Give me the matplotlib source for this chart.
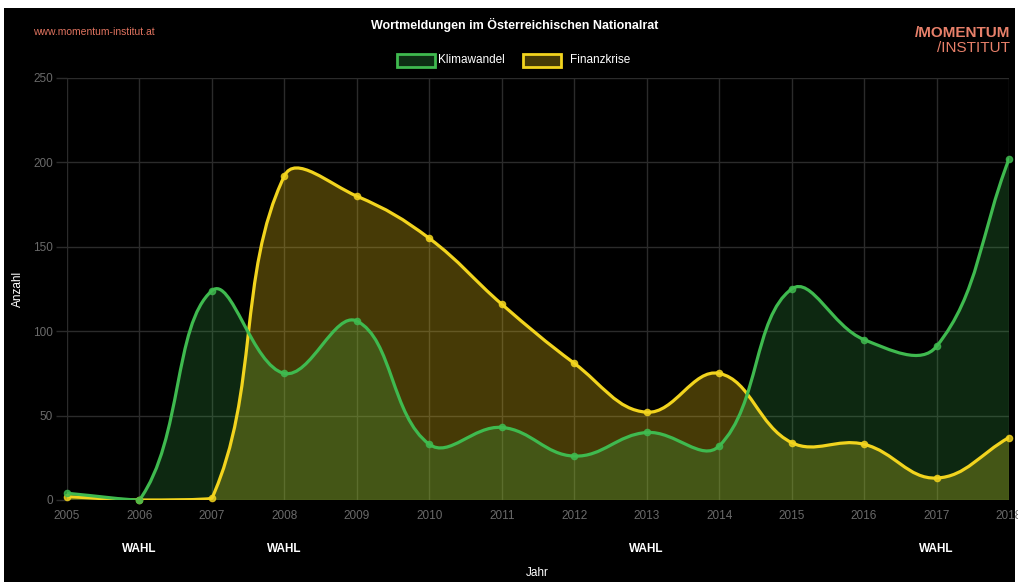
import numpy as np
import matplotlib
matplotlib.use("Agg")
import matplotlib.pyplot as plt
from matplotlib.path import Path
from matplotlib.patches import PathPatch, Rectangle
import matplotlib.transforms as mtransforms

# ---------------- data ----------------
jahre = [2005, 2006, 2007, 2008, 2009, 2010, 2011, 2012, 2013, 2014, 2015, 2016, 2017, 2018]
klimawandel = [4, 0, 124, 75, 106, 33, 43, 26, 40, 32, 125, 95, 91, 202]
finanzkrise = [2, 0, 1, 192, 180, 155, 116, 81, 52, 75, 34, 33, 13, 37]
wahl_jahre = [2006, 2008, 2013, 2017]
y_ticks = [0, 50, 100, 150, 200, 250]

plt.rcParams['font.family'] = ['Liberation Sans', 'DejaVu Sans']

W, H = 1018, 582
fig = plt.figure(figsize=(W / 100, H / 100), dpi=100, facecolor='white')
# black chart canvas inside a thin white frame
fig.patches.append(Rectangle((4 / W, 0), (W - 7) / W, (H - 8) / H, transform=fig.transFigure,
                             facecolor='black', edgecolor='none', zorder=-10))

x0, x1, ytop, ybot = 67, 1009, 78, 500
ax = fig.add_axes([x0 / W, (H - ybot) / H, (x1 - x0) / W, (ybot - ytop) / H])
ax.set_facecolor('black')
ax.set_xlim(jahre[0], jahre[-1])
ax.set_ylim(0, 250)

# pixel scales (for chart.js style bezier tension)
sx = (x1 - x0) / (jahre[-1] - jahre[0])
sy = (ybot - ytop) / 250.0


def spline_path(xs, ys, tension=0.4):
    px = np.array(xs, float) * sx
    py = np.array(ys, float) * sy
    n = len(px)
    cps = []
    for i in range(n):
        p = max(i - 1, 0); nx = min(i + 1, n - 1)
        d01 = np.hypot(px[i] - px[p], py[i] - py[p])
        d12 = np.hypot(px[nx] - px[i], py[nx] - py[i])
        tot = d01 + d12
        s01 = d01 / tot if tot else 0
        s12 = d12 / tot if tot else 0
        fa, fb = tension * s01, tension * s12
        dx, dy = px[nx] - px[p], py[nx] - py[p]
        prev_cp = (px[i] - fa * dx, py[i] - fa * dy)
        next_cp = (px[i] + fb * dx, py[i] + fb * dy)
        cps.append((prev_cp, next_cp))
    verts = [(xs[0], ys[0])]
    codes = [Path.MOVETO]
    for i in range(n - 1):
        c1 = cps[i][1]; c2 = cps[i + 1][0]
        c1 = (c1[0] / sx, min(max(c1[1] / sy, 0), 250))
        c2 = (c2[0] / sx, min(max(c2[1] / sy, 0), 250))
        verts += [c1, c2, (xs[i + 1], ys[i + 1])]
        codes += [Path.CURVE4] * 3
    return verts, codes


series = [
    ('Finanzkrise', finanzkrise, '#f2d41e', (0.92, 0.76, 0.08, 0.30)),
    ('Klimawandel', klimawandel, '#3fba4f', (0.24, 0.73, 0.31, 0.22)),
]
for z, (name, vals, lc, fc) in enumerate(series):
    verts, codes = spline_path(jahre, vals)
    fill_v = verts + [(jahre[-1], 0), (jahre[0], 0), verts[0]]
    fill_c = codes + [Path.LINETO, Path.LINETO, Path.CLOSEPOLY]
    ax.add_patch(PathPatch(Path(fill_v, fill_c), facecolor=fc, edgecolor='none', zorder=2 + z))
    ax.add_patch(PathPatch(Path(verts, codes), facecolor='none', edgecolor=lc, lw=2.3,
                           zorder=4 + z, capstyle='round', joinstyle='round'))
    ax.plot(jahre, vals, 'o', color=lc, ms=4.5, mfc=lc, mec=lc, alpha=0.8, zorder=6 + z, clip_on=False)

# grid & axes
ax.set_xticks(jahre)
ax.set_xticklabels([str(j) for j in jahre])
ax.set_yticks(y_ticks)
ax.grid(True, color='#2b2b2b', lw=1)
ax.set_axisbelow(True)
for s in ax.spines.values():
    s.set_visible(False)
ax.tick_params(axis='x', colors='#2b2b2b', length=0, pad=7, labelcolor='#6a6a6a', labelsize=8.5)
ax.tick_params(axis='y', colors='#2b2b2b', length=8, width=1, pad=2, labelcolor='#6a6a6a', labelsize=8.5)
ax.set_ylabel('Anzahl', color='white', fontsize=8.5, va='center')
ax.yaxis.set_label_coords((18 - x0) / (x1 - x0), 0.5)
ax.set_xlabel('Jahr', color='white', fontsize=8.5, va='center')
ax.xaxis.set_label_coords((537 - x0) / (x1 - x0), -(573 - ybot) / (ybot - ytop))

trans = mtransforms.blended_transform_factory(ax.transData, fig.transFigure)
for j in wahl_jahre:
    ax.text(j, (H - 549) / H, 'WAHL', transform=trans, color='white', fontsize=8.5,
            fontweight='bold', ha='center', va='center')

# title, legend, branding
fig.text(515 / W, (H - 25) / H, 'Wortmeldungen im Österreichischen Nationalrat', color='white',
         fontsize=9, fontweight='bold', ha='center', va='center')
fig.text(33 / W, (H - 32) / H, 'www.momentum-institut.at', color='#e0735f', fontsize=7.5,
         ha='left', va='center')
fig.text(1010 / W, (H - 33) / H, '/MOMENTUM', color='#e8806a', fontsize=11, fontweight='bold',
         ha='right', va='center')
fig.text(1010 / W, (H - 48) / H, '/INSTITUT', color='#e8806a', fontsize=11,
         ha='right', va='center')

legend_items = [('Klimawandel', 397, 438, '#3fba4f', '#0e2e14'),
                ('Finanzkrise', 523, 570, '#f2d41e', '#453a06')]
for name, bx, tx, ec, fc in legend_items:
    fig.patches.append(Rectangle((bx / W, (H - 67) / H), 38 / W, 13 / H, transform=fig.transFigure,
                                 facecolor=fc, edgecolor=ec, lw=2))
    fig.text(tx / W, (H - 60) / H, name, color='white', fontsize=8.5, ha='left', va='center')

fig.savefig('out.png', dpi=100, facecolor=fig.get_facecolor())
